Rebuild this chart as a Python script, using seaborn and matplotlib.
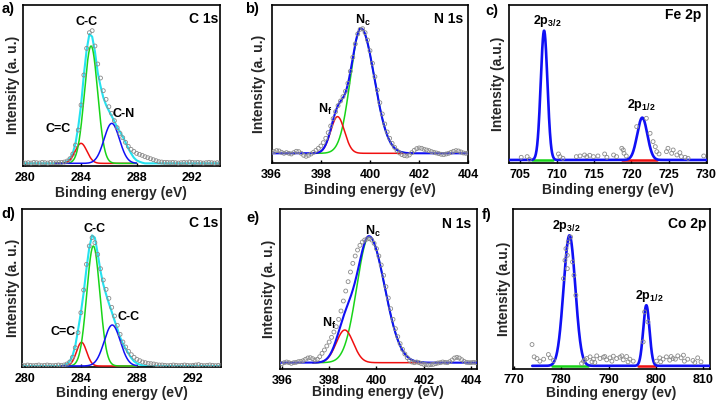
import numpy as np
import matplotlib
matplotlib.use("Agg")
import matplotlib.pyplot as plt
import seaborn as sns

# ======================= DATA =======================
# ---- a) C 1s (sample 1) : measured points and fit envelope on a 0.2 eV grid
a_x = np.round(np.arange(279.8, 294.01, 0.2), 1)
a_points = [2, 1, 2, 1, 3, 2, 1, 3, 2, 1,
            3, 2, 2, 3, 3, 4, 7, 14, 28, 55,
            100, 175, 265, 345, 392, 398, 352, 298, 256, 218,
            192, 170, 150, 128, 107, 90, 77, 63, 51, 42,
            36, 30, 27, 24, 20, 17, 14, 11, 8, 5,
            4, 3, 3, 2, 3, 2, 1, 2, 3, 2,
            4, 3, 2, 3, 2, 1, 2, 3, 2, 1,
            2, 1]
a_envelope = [0, 0, 0, 0, 0, 0, 0, 0, 0, 0,
              0, 0, 0, 0, 0, 2, 7, 15, 30, 60,
              110, 175, 265, 340, 388, 380, 335, 272, 232, 198,
              175, 158, 142, 126, 108, 95, 80, 63, 45, 30,
              17, 9, 5, 2, 0, 0, 0, 0, 0, 0,
              0, 0, 0, 0, 0, 0, 0, 0, 0, 0,
              0, 0, 0, 0, 0, 0, 0, 0, 0, 0,
              0, 0]
a_comp_labels = ["C=C", "C-C", "C-N"]
a_comp_center = [284.0, 284.72, 286.21]
a_comp_height = [60, 352, 120]
a_comp_fwhm = [1.0, 1.12, 1.3]
a_comp_window = (282.1, 288.0)

# ---- d) C 1s (sample 2)
d_x = np.round(np.arange(279.8, 294.01, 0.2), 1)
d_points = [2, 1, 3, 2, 1, 2, 3, 1, 2, 3,
            2, 1, 2, 3, 2, 3, 6, 12, 26, 55,
            100, 160, 228, 305, 360, 385, 370, 335, 292, 258,
            230, 203, 176, 150, 122, 95, 72, 57, 44, 34,
            26, 20, 16, 12, 10, 8, 7, 6, 4, 3,
            3, 2, 1, 2, 3, 2, 1, 2, 3, 2,
            1, 2, 3, 4, 2, 1, 2, 3, 2, 1,
            2, 1]
d_envelope = [0, 0, 0, 0, 0, 0, 0, 0, 0, 0,
              0, 0, 0, 0, 0, 2, 6, 14, 30, 60,
              108, 160, 220, 292, 355, 392, 385, 338, 285, 245,
              215, 188, 163, 137, 112, 86, 67, 51, 37, 24,
              14, 8, 4, 2, 0, 0, 0, 0, 0, 0,
              0, 0, 0, 0, 0, 0, 0, 0, 0, 0,
              0, 0, 0, 0, 0, 0, 0, 0, 0, 0,
              0, 0]
d_comp_labels = ["C=C", "C-C", "C-C"]
d_comp_center = [284.05, 284.89, 286.24]
d_comp_height = [71, 360, 123]
d_comp_fwhm = [0.85, 1.1, 1.35]
d_comp_window = (282.6, 288.0)

# ---- b) N 1s (sample 1): points on a 0.1 eV grid, components (left / right FWHM)
b_x = np.round(np.arange(396.0, 404.01, 0.1), 1)
b_points = [3, 5, 8, 7, 3, 0, 2, 0, -2, 2,
            6, 5, 0, -6, -9, -6, -2, 3, 9, 15,
            22, 32, 45, 62, 82, 104, 125, 143, 157, 170,
            186, 210, 246, 288, 328, 358, 372, 374, 362, 340,
            308, 270, 230, 190, 152, 118, 88, 64, 45, 30,
            18, 8, 1, -4, -7, -8, -5, 2, 9, 14,
            16, 15, 12, 10, 8, 5, 3, 1, -1, -3,
            -4, -2, 0, 3, 6, 8, 7, 4, 1, 0,
            1]
b_comp_labels = ["N$_\\mathbf{f}$", "N$_\\mathbf{c}$"]
b_comp_center = [398.68, 399.63]
b_comp_height = [110, 375]
b_comp_fwhm_left = [0.66, 1.0]
b_comp_fwhm_right = [0.66, 1.28]
b_comp_window = (397.6, 401.8)

# ---- e) N 1s (sample 2)
e_x = np.round(np.arange(396.0, 404.21, 0.1), 1)
e_points = [-3, 0, 2, 0, -2, 0, 1, 3, 4, 6,
            10, 14, 15, 12, 8, 10, 18, 28, 38, 50,
            62, 76, 92, 108, 130, 155, 185, 215, 243, 272,
            298, 320, 338, 352, 362, 368, 371, 372, 368, 358,
            342, 320, 293, 262, 228, 194, 162, 130, 102, 78,
            57, 40, 26, 15, 7, 2, 0, 2, 0, -3,
            -5, -6, -7, -6, -5, -3, -1, 0, 2, 1,
            0, 3, 8, 14, 16, 14, 9, 4, 1, 0,
            0, 1, 0]
e_comp_labels = ["N$_\\mathbf{f}$", "N$_\\mathbf{c}$"]
e_comp_center = [398.66, 399.69]
e_comp_height = [98, 378]
e_comp_fwhm_left = [0.85, 1.22]
e_comp_fwhm_right = [0.85, 1.54]
e_comp_window = (397.3, 402.0)

# ---- c) Fe 2p
c_pts_x = [705.2, 706.0, 706.3, 710.2, 710.4, 710.8, 712.6, 713.1, 713.7, 714.0,
           714.4, 714.9, 715.5, 716.4, 716.7, 717.6, 718.0, 718.7, 718.9, 719.0,
           719.3, 720.7, 722.0, 722.5, 722.9, 723.2, 723.4, 723.7, 724.7, 724.9,
           725.4, 725.6, 726.1, 726.5, 726.7, 727.2, 727.6, 729.7]
c_pts_y = [8, 10, 2, 18, 10, 5, 10, 12, 15, 10,
           14, 10, 12, 18, 8, 15, 10, 35, 30, 20,
           12, 100, 125, 80, 55, 40, 25, 18, 25, 35,
           20, 30, 15, 22, 10, 8, 5, 12]
c_peak_labels = ["2p$_\\mathbf{3/2}$", "2p$_\\mathbf{1/2}$"]
c_peak_center = [708.27, 721.45]
c_peak_height = [388, 127]
c_peak_fwhm = [1.05, 1.6]
c_base_green = (706.6, 709.5)
c_base_red = (718.7, 723.4)
c_fit_range = (703.6, 730.1)

# ---- f) Co 2p
f_pts_x = [773.85, 774.3, 774.9, 775.5, 776.3, 777.3, 777.7, 778.4,
           780.5, 780.8, 781.0, 781.3, 781.3, 781.5, 782.0, 782.4, 782.7, 783.1,
           784.3, 784.7, 785.0, 785.4, 786.1, 786.5, 786.8, 787.1, 787.5, 788.2,
           788.9, 789.2, 789.6, 790.3, 790.7, 791.0, 791.7, 792.4, 792.8, 793.1,
           793.8, 794.1, 794.5, 795.2, 797.3, 797.6, 798.3,
           800.1, 800.8, 801.0, 801.5, 802.2, 802.9, 803.2, 803.6, 804.1, 804.6,
           805.3, 805.8, 806.0, 806.7, 807.8, 808.2, 808.8, 809.5]
f_pts_y = [64, 27, 22, 14, 20, 34, 24, 16,
           262, 317, 352, 332, 292, 372, 387, 312, 272, 212,
           7, 14, 18, 22, 27, 12, 20, 10, 30, 22,
           26, 28, 18, 24, 14, 29, 22, 26, 30, 18,
           28, 12, 20, 14, 72, 162, 132,
           14, 24, 12, 20, 27, 17, 28, 22, 20, 30,
           24, 32, 14, 20, 16, 10, 24, 12]
f_peak_labels = ["2p$_\\mathbf{3/2}$", "2p$_\\mathbf{1/2}$"]
f_peak_center = [781.75, 797.97]
f_peak_height = [392, 182]
f_peak_fwhm = [2.9, 1.55]
f_base_green = (778.0, 785.7)
f_base_red = (796.2, 799.7)
f_fit_range = (773.9, 811.4)

# ======================= STYLE =======================
sns.set_theme(style="white")
plt.rcParams["font.family"] = ["Liberation Sans", "DejaVu Sans"]
plt.rcParams.update({
    "font.weight": "bold",
    "axes.labelweight": "bold",
    "axes.linewidth": 1.2,
    "axes.edgecolor": "black",
    "xtick.direction": "in",
    "xtick.major.size": 2.5,
    "xtick.major.width": 1.0,
    "xtick.bottom": True,
    "xtick.color": "black",
    "xtick.major.pad": 4.2,
    "mathtext.fontset": "custom",
    "mathtext.rm": "Liberation Sans:bold",
    "mathtext.bf": "Liberation Sans:bold",
    "mathtext.it": "Liberation Sans:bold",
})

GREEN = "#18d418"
RED = "#f01010"
BLUE = "#1010f5"
CYAN = "#25e2f0"
GREY = "#8a8a8a"

W, H = 720, 404
fig = plt.figure(figsize=(7.2, 4.04), dpi=100)


def add_ax(l, t, r, b):
    return fig.add_axes([l / W, 1 - b / H, (r - l) / W, (b - t) / H])


def ftext(x, y, s, size=9, ha="center"):
    fig.text(x / W, 1 - y / H, s, ha=ha, va="baseline", fontsize=size,
             fontweight="bold", color="black")


def peak(x, c, h, fl, fr=None):
    fr = fl if fr is None else fr
    s = np.where(x < c, fl, fr) / 2.3548
    return h * np.exp(-0.5 * ((x - c) / s) ** 2)


def line(ax, x, y, color, lw, z):
    sns.lineplot(x=x, y=y, ax=ax, color=color, linewidth=lw, estimator=None,
                 sort=False, legend=False, zorder=z)


def dots(ax, x, y):
    sns.scatterplot(x=x, y=y, ax=ax, s=8, marker="o", facecolor="none",
                    edgecolor=GREY, linewidth=0.6, zorder=6, legend=False)


def finish(ax, xlim, ylim, ticks, xlabel, ylabel, ypad, xpad=1.5):
    ax.set_xlim(*xlim)
    ax.set_ylim(*ylim)
    ax.set_xticks(ticks)
    ax.set_xticklabels([str(t) for t in ticks], fontsize=9, fontweight="bold")
    ax.set_yticks([])
    ax.set_xlabel(xlabel, fontsize=10, labelpad=xpad)
    ax.set_ylabel(ylabel, fontsize=10, labelpad=ypad)
    for sp in ax.spines.values():
        sp.set_visible(True)
        sp.set_linewidth(1.2)
        sp.set_color("black")


# ---------------- C 1s panels (a, d) ----------------
def c1s_panel(rect, xs, pts, env, centers, heights, fwhms, window):
    ax = add_ax(*rect)
    line(ax, xs, env, CYAN, 1.5, 2)
    g = np.linspace(window[0], window[1], 400)
    for c, h, w, col in zip(centers, heights, fwhms, [RED, GREEN, BLUE]):
        line(ax, g, peak(g, c, h, w), col, 1.1, 3)
    dots(ax, xs, pts)
    return ax


ax_a = c1s_panel((22.7, 5, 220, 165.7), a_x, a_points, a_envelope,
                 a_comp_center, a_comp_height, a_comp_fwhm, a_comp_window)
finish(ax_a, (279.8, 294.0), (-7, 475), [280, 284, 288, 292],
       "Binding energy (eV)", "Intensity (a. u.)", 2.2)

ax_d = c1s_panel((22.0, 208.7, 221, 367), d_x, d_points, d_envelope,
                 d_comp_center, d_comp_height, d_comp_fwhm, d_comp_window)
finish(ax_d, (279.8, 294.0), (-3, 472), [280, 284, 288, 292],
       "Binding energy (eV)", "Intensity (a. u.)", 1.5, xpad=0.5)


# ---------------- N 1s panels (b, e) ----------------
def n1s_panel(rect, xs, pts, centers, heights, fl, fr, window, xlim):
    ax = add_ax(*rect)
    g = np.linspace(window[0], window[1], 400)
    for c, h, l, r, col in zip(centers, heights, fl, fr, [RED, GREEN]):
        line(ax, g, peak(g, c, h, l, r), col, 1.1, 2 if col == GREEN else 3)
    ge = np.linspace(xlim[0], xlim[1], 600)
    env = sum(peak(ge, c, h, l, r) for c, h, l, r in zip(centers, heights, fl, fr))
    line(ax, ge, env, BLUE, 1.5, 4)
    dots(ax, xs, pts)
    return ax


ax_b = n1s_panel((271.7, 5, 468.3, 163.3), b_x, b_points, b_comp_center,
                 b_comp_height, b_comp_fwhm_left, b_comp_fwhm_right,
                 b_comp_window, (396, 404))
finish(ax_b, (396, 404), (-30, 445), [396, 398, 400, 402, 404],
       "Binding energy (eV)", "Intensity (a. u.)", 3.9)

ax_e = n1s_panel((279.5, 208.7, 477, 369), e_x, e_points, e_comp_center,
                 e_comp_height, e_comp_fwhm_left, e_comp_fwhm_right,
                 e_comp_window, (395.9, 404.25))
finish(ax_e, (395.9, 404.25), (-19, 462), [396, 398, 400, 402, 404],
       "Binding energy (eV)", "Intensity (a. u.)", 2.3, xpad=-1.0)


# ---------------- 2p panels (c, f) ----------------
def p2_panel(rect, px, py, centers, heights, fwhms, bg, br, frange):
    ax = add_ax(*rect)
    line(ax, np.array(bg), np.zeros(2), GREEN, 1.8, 2)
    line(ax, np.array(br), np.zeros(2), RED, 1.8, 2)
    g = np.linspace(frange[0], frange[1], 900)
    env = sum(peak(g, c, h, w) for c, h, w in zip(centers, heights, fwhms))
    line(ax, g, env, BLUE, 1.9, 3)
    dots(ax, px, py)
    return ax


ax_c = p2_panel((509.3, 5, 706.7, 163.3), c_pts_x, c_pts_y, c_peak_center,
                c_peak_height, c_peak_fwhm, c_base_green, c_base_red, c_fit_range)
finish(ax_c, (703.6, 730.1), (-10, 465), [705, 710, 715, 720, 725, 730],
       "Binding energy (eV)", "Intensity (a.u.)", 2.9)

ax_f = p2_panel((513.3, 208.7, 710, 368.5), f_pts_x, f_pts_y, f_peak_center,
                f_peak_height, f_peak_fwhm, f_base_green, f_base_red, f_fit_range)
finish(ax_f, (769.9, 811.4), (-8, 472), [770, 780, 790, 800, 810],
       "Binding energy (ev)", "Intensity (a.u.)", 1.4, xpad=0.0)

# ---------------- annotations ----------------
for x, y, s in [(1.5, 12.5, "a)"), (245, 13.3, "b)"), (485, 14.7, "c)"),
                (1.5, 218, "d)"), (246.7, 222, "e)"), (481.7, 219, "f)")]:
    ftext(x, y, s, size=10.5, ha="left")

for x, y, s in [(218.3, 23.3, "C 1s"), (463.3, 23.3, "N 1s"), (701.7, 19.3, "Fe 2p"),
                (218.3, 227, "C 1s"), (471.7, 228, "N 1s"), (706.7, 228, "Co 2p")]:
    ftext(x, y, s, size=10, ha="right")

ftext(58.3, 131.7, a_comp_labels[0])
ftext(86.7, 25, a_comp_labels[1])
ftext(123.3, 117.3, a_comp_labels[2])
ftext(63.3, 335, d_comp_labels[0])
ftext(94.2, 231.7, d_comp_labels[1])
ftext(129, 320, d_comp_labels[2])
ftext(325, 113.3, b_comp_labels[0])
ftext(363.3, 24, b_comp_labels[1])
ftext(329, 327.3, e_comp_labels[0])
ftext(372.5, 235, e_comp_labels[1])
ftext(547.3, 24, c_peak_labels[0])
ftext(641.7, 107.7, c_peak_labels[1])
ftext(566.7, 228.7, f_peak_labels[0])
ftext(649, 298.7, f_peak_labels[1])

fig.savefig("out.png", dpi=100)
